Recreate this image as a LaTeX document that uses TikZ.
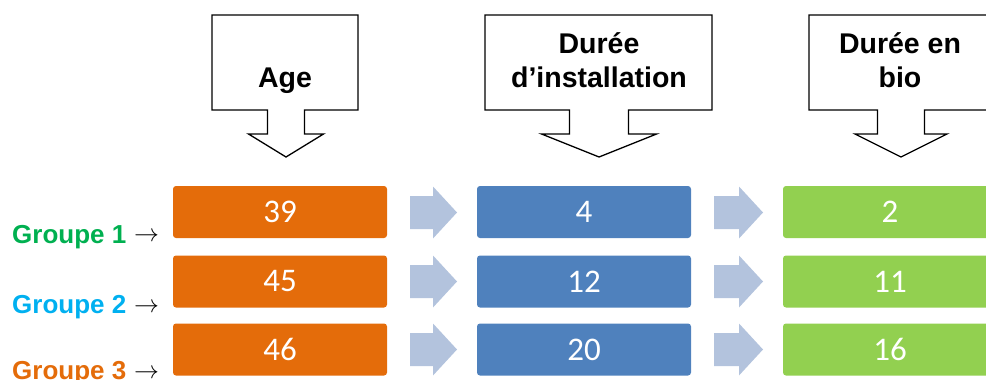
\documentclass[tikz,border=0pt]{standalone}
\usepackage{fontspec}
\setmainfont{Liberation Sans}
\newfontfamily\carl{Carlito}
\definecolor{orangeC}{HTML}{E46C0A}
\definecolor{blueC}{HTML}{4F81BD}
\definecolor{greenC}{HTML}{92D050}
\definecolor{chevC}{HTML}{B3C3DD}
\definecolor{grpA}{HTML}{00B050}
\definecolor{grpB}{HTML}{00B0F0}
\definecolor{grpC}{HTML}{E46C0A}
\newcommand\mycallout[5]{%
  \draw[callout] (#1,15) -- (#2,15) -- (#2,110) -- ({#3+#4},110) -- ({#3+#4},134) -- ({#3+#5},134) -- (#3,157) -- ({#3-#5},134) -- ({#3-#4},134) -- ({#3-#4},110) -- (#1,110) -- cycle;}
\newcommand\mychev[4]{%
  \fill[chev] (#1,{#2-16.5}) -- ({#1+#3},{#2-16.5}) -- ({#1+#3},{#2-26}) -- ({#1+#4},#2) -- ({#1+#3},{#2+26}) -- ({#1+#3},{#2+16.5}) -- (#1,{#2+16.5}) -- cycle;}
\begin{document}
\begin{tikzpicture}[x=1pt,y=-1pt,
  valbox/.style={rounded corners=3pt, minimum width=214pt, minimum height=52pt, inner sep=0pt, text=white, font=\carl\fontsize{33}{33}\selectfont},
  callout/.style={draw=black, line width=1.3pt, fill=white, line join=miter},
  head/.style={font=\bfseries\fontsize{28.5}{30}\selectfont, anchor=base, inner sep=0pt},
  chev/.style={fill=chevC},
  grp/.style={font=\bfseries\fontsize{26}{28}\selectfont, anchor=base west, inner sep=0pt},
  arr/.style={font=\fontsize{24}{24}\selectfont, anchor=base west, inner sep=0pt}]
\useasboundingbox (0,0) rectangle (986,380);
\clip (0,0) rectangle (986,380);
% callouts
\mycallout{212}{358}{286}{18.5}{37.5}
\mycallout{485}{712}{599}{29.5}{57.5}
\mycallout{809}{993}{901}{23.5}{46}
\node[head] (tA) at (285,87) {Age};
\node[head] (tB1) at (599,53) {Durée};
\node[head] (tB2) at (599,87) {d’installation};
\node[head] (tC1) at (900,53) {Durée en};
\node[head] (tC2) at (900,87) {bio};
% chevrons
\foreach \cy in {212.5,281.5,349.5}{
  \mychev{410}{\cy}{23}{47}
  \mychev{714}{\cy}{25}{49}
}
% value boxes
\node[valbox, fill=orangeC] (o1) at (280,212) {39};
\node[valbox, fill=orangeC] (o2) at (280,281.5) {45};
\node[valbox, fill=orangeC] (o3) at (280,349.5) {46};
\node[valbox, fill=blueC] (b1) at (584,212) {4};
\node[valbox, fill=blueC] (b2) at (584,281.5) {12};
\node[valbox, fill=blueC] (b3) at (584,349.5) {20};
\node[valbox, fill=greenC] (v1) at (890,212) {2};
\node[valbox, fill=greenC] (v2) at (890,281.5) {11};
\node[valbox, fill=greenC] (v3) at (890,349.5) {16};
% group labels
\node[grp, text=grpA] (g1) at (12,243) {Groupe 1};
\node[grp, text=grpB] (g2) at (12,313) {Groupe 2};
\node[grp, text=grpC] (g3) at (12,379) {Groupe 3};
\node[arr] (a1) at (134,241) {$\rightarrow$};
\node[arr] (a2) at (134,312) {$\rightarrow$};
\node[arr] (a3) at (134,378) {$\rightarrow$};
\end{tikzpicture}
\end{document}
